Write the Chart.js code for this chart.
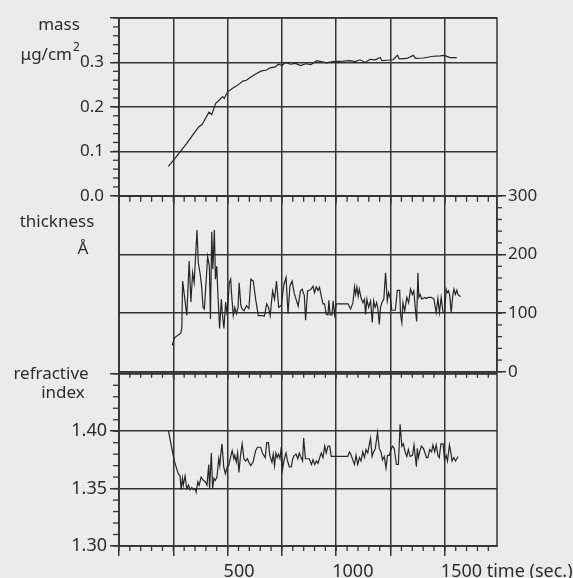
<!DOCTYPE html>
<html>
<head>
<meta charset="utf-8">
<script src="https://cdn.jsdelivr.net/npm/chart.js@4.4.1/dist/chart.umd.min.js"></script>
<style>
	html, body { margin: 0; padding: 0; background: #ebebea; }
	#wrap { position: relative; width: 573px; height: 578px; overflow: hidden; }
	canvas { position: absolute; left: 0; }
</style>
</head>
<body>
<div id="wrap">
	<canvas id="mass-chart" width="573" height="212" style="top:0px"></canvas>
	<canvas id="thickness-chart" width="573" height="204" style="top:180px"></canvas>
	<canvas id="refractive-chart" width="573" height="218" style="top:360px"></canvas>
</div>
<script>
// time axis (sec.)
const timeMax = 1740;
const timeGrid = [0, 250, 500, 750, 1000, 1250, 1500];
const timeLabels = [500, 1000, 1500];
const timeTitle = 'time (sec.)';

// mass, ug/cm2
const massTime = [227, 258, 281, 312, 344, 367, 383, 398, 414, 427, 445, 461, 477, 484, 500, 523, 547, 570, 586, 609,
	633, 656, 680, 695, 719, 734, 750, 766, 789, 812, 836, 859, 883, 910, 930, 956, 983, 1033, 1064, 1087,
	1110, 1133, 1156, 1179, 1202, 1210, 1235, 1262, 1282, 1290, 1325, 1355, 1365, 1401, 1447, 1478, 1497, 1524, 1555];
const massValues = [0.066, 0.084, 0.099, 0.118, 0.140, 0.155, 0.161, 0.174, 0.188, 0.183, 0.208, 0.215, 0.223, 0.219, 0.234, 0.242, 0.249, 0.258, 0.260, 0.268,
	0.275, 0.281, 0.283, 0.288, 0.290, 0.296, 0.293, 0.300, 0.296, 0.298, 0.293, 0.297, 0.295, 0.304, 0.302, 0.299, 0.302, 0.303, 0.304, 0.302,
	0.306, 0.300, 0.307, 0.306, 0.311, 0.304, 0.305, 0.306, 0.316, 0.308, 0.309, 0.316, 0.309, 0.310, 0.314, 0.315, 0.316, 0.311, 0.311];
const massTicks = ['0.0', '0.1', '0.2', '0.3'];

// thickness, angstrom
const thickTime = [245, 255, 284, 289, 293, 303, 312, 323, 331, 339, 346, 359, 365, 374, 380, 387, 393, 408, 416, 421,
	427, 432, 439, 444, 450, 455, 463, 471, 475, 483, 491, 498, 508, 514, 520, 526, 533, 540, 548, 553,
	561, 567, 576, 587, 598, 607, 618, 629, 641, 657, 669, 680, 688, 696, 707, 716, 725, 735, 747, 759,
	769, 778, 787, 797, 806, 815, 825, 835, 843, 853, 859, 868, 882, 893, 900, 908, 916, 923, 931, 939,
	946, 954, 962, 966, 972, 980, 986, 992, 1000, 1054, 1066, 1077, 1084, 1089, 1095, 1101, 1106, 1115, 1123, 1130,
	1135, 1141, 1149, 1158, 1166, 1172, 1179, 1186, 1192, 1198, 1204, 1210, 1219, 1227, 1235, 1241, 1250, 1256, 1272, 1281,
	1292, 1296, 1302, 1307, 1315, 1325, 1333, 1342, 1350, 1357, 1365, 1370, 1376, 1380, 1386, 1394, 1406, 1414, 1422, 1437,
	1449, 1460, 1468, 1475, 1483, 1492, 1499, 1506, 1511, 1517, 1523, 1529, 1537, 1542, 1548, 1555, 1560, 1572];
const thickValues = [45, 58, 66, 74, 155, 124, 96, 189, 119, 169, 152, 242, 186, 166, 147, 110, 107, 197, 180, 90,
	239, 175, 242, 158, 180, 135, 74, 124, 102, 74, 119, 96, 152, 158, 124, 96, 110, 99, 110, 152,
	113, 107, 104, 113, 108, 158, 155, 124, 96, 96, 95, 116, 110, 96, 138, 124, 155, 110, 113, 149,
	161, 99, 147, 155, 135, 124, 112, 138, 141, 130, 88, 138, 140, 146, 135, 145, 139, 144, 129, 116,
	116, 98, 97, 122, 97, 97, 121, 98, 116, 116, 107, 118, 145, 132, 145, 129, 141, 125, 118, 124,
	98, 124, 110, 121, 84, 121, 110, 118, 107, 81, 110, 118, 124, 169, 121, 135, 124, 105, 105, 139,
	139, 98, 84, 118, 104, 127, 118, 141, 132, 138, 104, 86, 169, 127, 132, 124, 127, 125, 127, 127,
	125, 101, 125, 101, 127, 101, 101, 141, 135, 138, 129, 101, 132, 141, 132, 139, 132, 128];
const thickTicks = ['0', '100', '200', '300'];

// refractive index
const refrTime = [227, 235, 245, 255, 266, 273, 281, 286, 292, 296, 304, 312, 320, 327, 335, 343, 351, 355, 363, 369,
	378, 389, 397, 405, 413, 417, 425, 431, 437, 443, 451, 459, 464, 468, 474, 482, 490, 498, 505, 513,
	521, 529, 533, 540, 546, 552, 560, 567, 575, 583, 591, 598, 606, 617, 629, 637, 652, 660, 673, 680,
	688, 694, 704, 710, 716, 722, 728, 734, 741, 747, 753, 761, 769, 776, 784, 793, 800, 807, 815, 823,
	830, 838, 845, 850, 858, 869, 876, 886, 893, 901, 909, 916, 924, 931, 939, 947, 954, 962, 970, 977,
	985, 1053, 1061, 1069, 1076, 1084, 1091, 1099, 1107, 1114, 1122, 1130, 1137, 1145, 1152, 1158, 1165, 1172, 1180, 1190,
	1198, 1206, 1213, 1221, 1229, 1236, 1244, 1252, 1259, 1267, 1277, 1286, 1294, 1302, 1309, 1317, 1325, 1332, 1340, 1351,
	1358, 1363, 1369, 1373, 1378, 1384, 1392, 1401, 1409, 1415, 1422, 1430, 1439, 1445, 1453, 1460, 1468, 1474, 1482, 1492,
	1498, 1506, 1512, 1521, 1527, 1533, 1541, 1549, 1561];
const refrValues = [1.401, 1.393, 1.383, 1.374, 1.367, 1.363, 1.361, 1.349, 1.359, 1.353, 1.361, 1.350, 1.353, 1.349, 1.351, 1.349, 1.350, 1.347, 1.356, 1.353,
	1.360, 1.357, 1.356, 1.353, 1.371, 1.350, 1.381, 1.350, 1.359, 1.357, 1.360, 1.376, 1.370, 1.379, 1.389, 1.369, 1.363, 1.369, 1.370, 1.377,
	1.383, 1.376, 1.379, 1.373, 1.381, 1.364, 1.380, 1.389, 1.376, 1.374, 1.376, 1.373, 1.370, 1.373, 1.383, 1.386, 1.386, 1.381, 1.377, 1.390,
	1.390, 1.379, 1.373, 1.380, 1.370, 1.381, 1.377, 1.380, 1.376, 1.386, 1.367, 1.376, 1.381, 1.374, 1.369, 1.369, 1.376, 1.379, 1.380, 1.376,
	1.381, 1.377, 1.374, 1.394, 1.376, 1.376, 1.376, 1.371, 1.375, 1.371, 1.374, 1.372, 1.377, 1.381, 1.377, 1.387, 1.381, 1.387, 1.387, 1.378,
	1.378, 1.378, 1.382, 1.379, 1.375, 1.371, 1.379, 1.371, 1.377, 1.374, 1.382, 1.377, 1.384, 1.381, 1.388, 1.394, 1.378, 1.382, 1.385, 1.399,
	1.385, 1.382, 1.375, 1.378, 1.368, 1.379, 1.379, 1.384, 1.387, 1.385, 1.371, 1.371, 1.406, 1.387, 1.389, 1.382, 1.378, 1.384, 1.378, 1.379,
	1.388, 1.379, 1.369, 1.385, 1.377, 1.382, 1.387, 1.385, 1.381, 1.377, 1.377, 1.384, 1.382, 1.388, 1.382, 1.388, 1.379, 1.377, 1.389, 1.389,
	1.375, 1.379, 1.374, 1.388, 1.382, 1.374, 1.377, 1.374, 1.378];
const refrTicks = ['1.30', '1.35', '1.40'];

const INK = '#343434';
const TEXT = '#2c2c2c';
const FONT = 'Noto Sans';

const gridOptions = {
	color: INK,
	lineWidth: 1.5,
	tickColor: INK,
	tickWidth: 1.5,
};
const borderOptions = {
	color: INK,
	width: 1.5,
};

document.addEventListener('DOMContentLoaded', () => {
	massChart();
	thicknessChart();
	refractiveChart();
});

function toPoints(xs, ys) {
	return xs.map((x, i) => ({ x: x, y: ys[i] }));
}

function lineDataset(xs, ys) {
	return {
		data: toPoints(xs, ys),
		borderColor: '#262626',
		borderWidth: 1.2,
		pointRadius: 0,
		fill: false,
		tension: 0,
		xAxisID: 'x',
		yAxisID: 'y',
	};
}

// box round the plot area
const frame = {
	id: 'frame',
	afterDraw(chart) {
		const { ctx, chartArea: a } = chart;
		ctx.save();
		ctx.strokeStyle = INK;
		ctx.lineWidth = 1.5;
		ctx.strokeRect(a.left, a.top, a.right - a.left, a.bottom - a.top);
		ctx.restore();
	},
};

// short ticks between the labelled ones
function minorTicks(list) {
	return {
		id: 'minorTicks',
		afterDraw(chart) {
			const { ctx, chartArea: a } = chart;
			ctx.save();
			ctx.strokeStyle = INK;
			ctx.lineWidth = 1.3;
			list.forEach((m) => {
				const scale = chart.scales[m.scale];
				const n = Math.floor((scale.max - scale.min) / m.step + 1e-6);
				for (let i = 0; i <= n; i++) {
					const p = scale.getPixelForValue(scale.min + i * m.step);
					ctx.beginPath();
					if (m.side === 'bottom') {
						ctx.moveTo(p, a.bottom);
						ctx.lineTo(p, a.bottom + m.len);
					} else if (m.side === 'left') {
						ctx.moveTo(a.left, p);
						ctx.lineTo(a.left - m.len, p);
					} else {
						ctx.moveTo(a.right, p);
						ctx.lineTo(a.right + m.len, p);
					}
					ctx.stroke();
				}
			});
			ctx.restore();
		},
	};
}

// panel names on the left
function panelTitles(items) {
	return {
		id: 'panelTitles',
		afterDraw(chart) {
			const ctx = chart.ctx;
			ctx.save();
			ctx.fillStyle = TEXT;
			ctx.textBaseline = 'alphabetic';
			items.forEach((t) => {
				ctx.font = (t.size || 17) + 'px "' + FONT + '"';
				ctx.textAlign = t.align || 'center';
				ctx.fillText(t.text, t.x, t.y);
			});
			ctx.restore();
		},
	};
}

function timeAxis(height, tickLength, showLabels) {
	return {
		type: 'linear',
		min: 0,
		max: timeMax,
		afterBuildTicks: (s) => {
			s.ticks = timeGrid.map((v) => ({ value: v }));
		},
		afterFit: (s) => {
			s.height = height;
			s.paddingLeft = 0;
			s.paddingRight = 0;
		},
		ticks: {
			display: showLabels,
			autoSkip: false,
			maxRotation: 0,
			align: 'start',
			labelOffset: -4,
			padding: 5,
			color: TEXT,
			font: { family: FONT, size: 18 },
			callback: (v) => {
				if (!timeLabels.includes(v)) {
					return '';
				}
				return v === timeLabels[timeLabels.length - 1] ? v + ' ' + timeTitle : String(v);
			},
		},
		grid: { ...gridOptions, tickLength: tickLength },
		border: borderOptions,
	};
}

function massChart() {
	const ctx = document.getElementById('mass-chart');

	if (!ctx) {
		return;
	}

	new Chart(ctx, {
		type: 'line',
		data: {
			datasets: [lineDataset(massTime, massValues)],
		},
		options: {
			responsive: false,
			animation: false,
			layout: { padding: { top: 18, right: 76, bottom: 7, left: 0 } },
			plugins: {
				legend: { display: false },
				tooltip: { enabled: false },
			},
			scales: {
				x: timeAxis(9, 9, false),
				y: {
					min: 0,
					max: 0.4,
					afterFit: (s) => {
						s.width = 119;
					},
					ticks: {
						stepSize: 0.1,
						padding: 6,
						color: TEXT,
						font: { family: FONT, size: 17 },
						callback: (v) => massTicks[Math.round(v * 10)] || '',
					},
					grid: { ...gridOptions, tickLength: 9 },
					border: borderOptions,
				},
			},
		},
		plugins: [
			frame,
			minorTicks([
				{ scale: 'y', step: 0.02, len: 6, side: 'left' },
				{ scale: 'x', step: 50, len: 6, side: 'bottom' },
			]),
			panelTitles([
				{ text: 'mass', x: 59, y: 30 },
				{ text: 'μg/cm', x: 72, y: 60, align: 'right' },
				{ text: '2', x: 73, y: 51, align: 'left', size: 12 },
			]),
		],
	});
}

function thicknessChart() {
	const ctx = document.getElementById('thickness-chart');

	if (!ctx) {
		return;
	}

	new Chart(ctx, {
		type: 'line',
		data: {
			datasets: [lineDataset(thickTime, thickValues)],
		},
		options: {
			responsive: false,
			animation: false,
			layout: { padding: { top: 16, right: 0, bottom: 4, left: 0 } },
			plugins: {
				legend: { display: false },
				tooltip: { enabled: false },
			},
			scales: {
				x: timeAxis(8, 8, false),
				yl: {
					position: 'left',
					min: 0,
					max: 300,
					afterFit: (s) => {
						s.width = 119;
					},
					ticks: { display: false },
					grid: { display: false },
					border: borderOptions,
				},
				y: {
					position: 'right',
					min: 0,
					max: 300,
					afterFit: (s) => {
						s.width = 76;
					},
					ticks: {
						stepSize: 100,
						padding: 2,
						color: TEXT,
						font: { family: FONT, size: 17 },
						callback: (v) => thickTicks[Math.round(v / 100)] || '',
					},
					grid: { ...gridOptions, tickLength: 9 },
					border: borderOptions,
				},
			},
		},
		plugins: [
			frame,
			minorTicks([
				{ scale: 'y', step: 20, len: 5, side: 'right' },
				{ scale: 'x', step: 50, len: 6, side: 'bottom' },
			]),
			panelTitles([
				{ text: 'thickness', x: 57, y: 47 },
				{ text: 'Å', x: 83, y: 74 },
			]),
		],
	});
}

function refractiveChart() {
	const ctx = document.getElementById('refractive-chart');

	if (!ctx) {
		return;
	}

	new Chart(ctx, {
		type: 'line',
		data: {
			datasets: [lineDataset(refrTime, refrValues)],
		},
		options: {
			responsive: false,
			animation: false,
			layout: { padding: { top: 12, right: 76, bottom: 0, left: 0 } },
			plugins: {
				legend: { display: false },
				tooltip: { enabled: false },
			},
			scales: {
				x: timeAxis(32, 10, true),
				y: {
					min: 1.3,
					max: 1.45,
					afterFit: (s) => {
						s.width = 119;
					},
					ticks: {
						stepSize: 0.05,
						padding: 3,
						color: TEXT,
						font: { family: FONT, size: 18 },
						callback: (v) => refrTicks[Math.round((v - 1.3) / 0.05)] || '',
					},
					grid: { ...gridOptions, tickLength: 9 },
					border: borderOptions,
				},
			},
		},
		plugins: [
			frame,
			minorTicks([
				{ scale: 'y', step: 0.01, len: 6, side: 'left' },
				{ scale: 'x', step: 50, len: 5, side: 'bottom' },
			]),
			panelTitles([
				{ text: 'refractive', x: 51, y: 19 },
				{ text: 'index', x: 63, y: 38 },
			]),
		],
	});
}
</script>
</body>
</html>
